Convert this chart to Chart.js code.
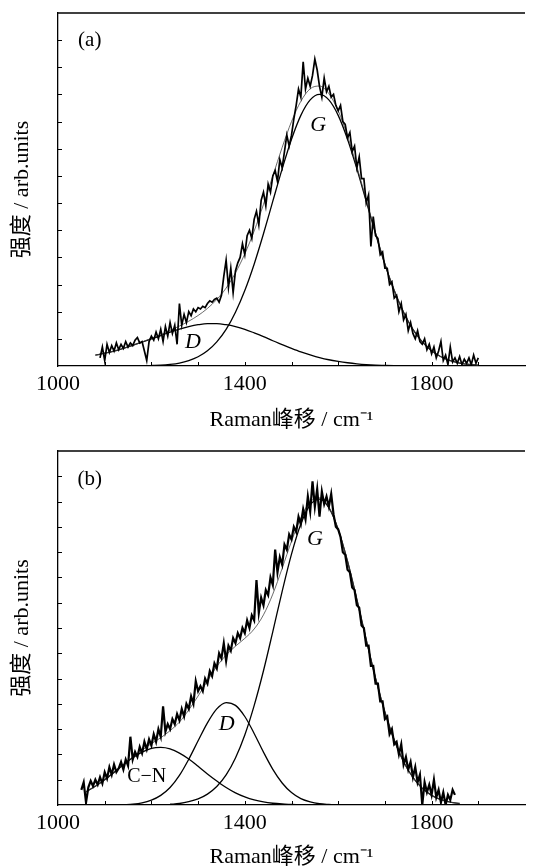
<!DOCTYPE html>
<html>
<head>
  <meta charset="utf-8">
  <title>Raman spectra (a) (b)</title>
  <script src="https://cdn.jsdelivr.net/npm/chart.js@4.4.1/dist/chart.umd.min.js"></script>
  <style>
    html, body { margin: 0; padding: 0; background: #fff; }
    canvas { display: block; }
  </style>
</head>
<body>
  <canvas id="chartA" width="538" height="434"></canvas>
  <canvas id="chartB" width="538" height="434"></canvas>
  <script>
    // x axis: Raman shift / cm-1
    var xTickLabels = [1000, 1400, 1800];
    var xMinorTicks = [1100, 1200, 1300, 1400, 1500, 1600, 1700, 1800, 1900];
    var yTicksA = [1, 2, 3, 4, 5, 6, 7, 8, 9, 10, 11, 12];
    var yTicksB = [1, 2, 3, 4, 5, 6, 7, 8, 9, 10, 11, 12, 13];

    // (a) measured spectrum, sampled every 5 cm-1 from 1090
    var specStartA = 1090, specStepA = 5;
    var specA = [
      0.3, 0.7, 0.2, 0.8, 0.5, 0.75, 0.55, 0.85, 0.6, 0.8,
      0.65, 0.9, 0.7, 0.85, 0.75, 0.95, 1.05, 0.85, 0.9, 0.55,
      0.2, 0.9, 1.1, 0.95, 1.25, 1.0, 1.35, 0.9, 1.45, 1.1,
      1.6, 1.2, 1.5, 0.8, 2.3, 1.5, 1.9, 1.6, 2.0, 1.85,
      2.1, 2.0, 2.15, 2.1, 2.2, 2.15, 2.3, 2.4, 2.35, 2.45,
      2.5, 2.35, 2.6, 3.3, 3.9, 2.9, 3.6, 2.7, 3.5, 3.8,
      4.0, 4.5, 4.1, 4.8, 5.0, 4.7, 5.4, 5.7, 5.2, 6.1,
      6.4, 5.9, 6.7, 6.4, 7.0, 7.2, 6.8, 7.6, 7.3, 7.9,
      8.5, 8.1, 8.5, 9.1, 9.6, 10.2, 9.9, 11.2, 10.2, 10.6,
      10.3, 10.7, 11.3, 10.9, 10.3, 9.9, 10.6, 10.1, 10.3, 9.9,
      10.0, 9.6, 9.4, 9.6, 9.0, 8.9, 8.4, 8.6, 7.9, 8.1,
      7.3, 7.7, 6.9, 6.9, 6.0, 6.3, 4.4, 5.5, 4.8, 4.7,
      4.1, 4.2, 3.6, 3.6, 3.0, 3.1, 2.5, 2.6, 2.0, 2.3,
      1.7, 1.9, 1.3, 1.6, 1.2, 1.0, 1.3, 0.9, 0.8, 1.0,
      0.6, 0.8, 0.45, 0.7, 0.3, 0.55, 0.9, 0.2, 0.4, 0.05,
      0.7, 0.15, 0.3, 0.1, 0.35, 0.05, 0.25, 0.1, 0.3, 0.05,
      0.4, 0.1, 0.3
    ];

    // (a) fitted components
    var fitXA = [1080, 1100, 1120, 1140, 1160, 1180, 1200, 1220, 1240, 1260,
                 1280, 1300, 1320, 1340, 1360, 1380, 1400, 1420, 1440, 1460,
                 1480, 1500, 1520, 1540, 1560, 1580, 1600, 1620, 1640, 1660,
                 1680, 1700, 1720, 1740, 1760, 1780, 1800, 1820, 1840, 1860,
                 1880, 1900];
    var fitDA = [0.4, 0.47, 0.55, 0.65, 0.76, 0.88, 1.0, 1.12, 1.25, 1.36,
                 1.45, 1.52, 1.56, 1.56, 1.52, 1.45, 1.35, 1.22, 1.08, 0.93,
                 0.79, 0.65, 0.52, 0.41, 0.31, 0.23, 0.17, 0.12, 0.08, 0.05,
                 0.03, 0.02, 0.01, 0, null, null, null, null, null, null,
                 null, null];
    var fitGA = [null, null, null, null, null, null, 0.02, 0.03, 0.06, 0.11,
                 0.2, 0.34, 0.56, 0.89, 1.35, 1.98, 2.78, 3.75, 4.87, 6.07,
                 7.26, 8.35, 9.23, 9.8, 10.0, 9.8, 9.23, 8.35, 7.26, 6.07,
                 4.87, 3.75, 2.78, 1.98, 1.35, 0.89, 0.56, 0.34, 0.2, 0.11,
                 0.06, 0.03];
    var fitSumA = [0.4, 0.47, 0.55, 0.65, 0.76, 0.88, 1.02, 1.15, 1.31, 1.47,
                   1.65, 1.86, 2.12, 2.45, 2.87, 3.43, 4.13, 4.97, 5.95, 7.0,
                   8.05, 9.0, 9.75, 10.21, 10.31, 10.03, 9.4, 8.47, 7.34, 6.12,
                   4.9, 3.77, 2.79, 1.98, 1.35, 0.89, 0.56, 0.34, 0.2, 0.11,
                   0.06, 0.03];

    // (b) measured spectrum, sampled every 5 cm-1 from 1050
    var specStartB = 1050, specStepB = 5;
    var specB = [
      0.6, 0.9, 0.1, 0.7, 0.95, 0.75, 1.0, 0.8, 1.1, 0.85,
      1.3, 1.05, 1.5, 1.2, 1.6, 1.3, 1.45, 1.7, 1.4, 1.8,
      1.55, 2.7, 1.8, 2.1, 1.9, 2.3, 2.05, 2.5, 2.2, 2.6,
      2.35, 2.8, 2.5, 3.0, 2.7, 3.9, 2.9, 3.2, 3.0, 3.4,
      3.2, 3.6, 3.35, 3.8, 3.5, 4.0, 3.8, 4.3, 4.0, 4.9,
      4.5, 4.7, 4.5, 5.0, 4.8, 5.3, 5.1, 5.6, 5.4, 6.0,
      5.8, 6.4, 5.7, 6.3, 6.1, 6.6, 6.4, 6.8, 6.6, 7.0,
      6.8, 7.3, 7.0, 7.5, 7.3, 8.9, 7.6, 8.2, 7.9, 8.5,
      8.3, 9.0, 8.7, 10.1, 9.2, 9.8, 9.5, 10.3, 10.1, 10.7,
      10.5, 11.0, 10.8, 11.4, 11.1, 11.7, 11.3, 12.2, 11.6, 12.8,
      11.8, 12.5, 11.4, 12.4, 11.9, 12.2, 11.8, 12.3, 11.5, 11.0,
      10.9, 10.6, 10.0, 9.9, 9.3, 9.2, 8.6, 8.5, 7.9, 7.8,
      7.1, 7.0, 6.3, 6.3, 5.5, 5.5, 4.8, 4.8, 4.1, 4.1,
      3.4, 3.5, 2.8, 3.0, 2.4, 2.5, 2.0, 2.4, 1.6, 1.9,
      1.4, 1.7, 1.1, 1.5, 0.9, 1.2, 0.0, 0.9, 0.5, 0.8,
      0.4, 1.0, 0.3, 0.6, 0.1, 0.5, 0.0, 0.4, 0.2, 0.6,
      0.4
    ];

    // (b) fitted components
    var fitXB = [1060, 1080, 1100, 1120, 1140, 1160, 1180, 1200, 1220, 1240,
                 1260, 1280, 1300, 1320, 1340, 1360, 1380, 1400, 1420, 1440,
                 1460, 1480, 1500, 1520, 1540, 1560, 1580, 1600, 1620, 1640,
                 1660, 1680, 1700, 1720, 1740, 1760, 1780, 1800, 1820, 1840,
                 1860];
    var fitCNB = [0.52, 0.74, 1.0, 1.29, 1.59, 1.87, 2.09, 2.24, 2.28, 2.22,
                  2.05, 1.82, 1.53, 1.23, 0.95, 0.69, 0.48, 0.32, 0.2, 0.12,
                  0.07, 0.04, 0.02, 0, null, null, null, null, null, null,
                  null, null, null, null, null, null, null, null, null, null,
                  null];
    var fitDB = [null, null, null, null, 0.01, 0.03, 0.08, 0.19, 0.38, 0.69,
                 1.17, 1.81, 2.54, 3.25, 3.8, 4.05, 3.94, 3.5, 2.83, 2.09,
                 1.41, 0.87, 0.49, 0.25, 0.12, 0.05, 0.02, 0, null, null,
                 null, null, null, null, null, null, null, null, null, null,
                 null];
    var fitGB = [null, null, null, null, null, null, null, null, null, 0.03,
                 0.06, 0.13, 0.24, 0.43, 0.73, 1.19, 1.86, 2.77, 3.93, 5.31,
                 6.86, 8.45, 9.92, 11.11, 11.87, 12.1, 11.76, 10.9, 9.64, 8.13,
                 6.54, 5.02, 3.68, 2.57, 1.71, 1.09, 0.66, 0.38, 0.21, 0.11,
                 0.06];
    var fitSumB = [0.52, 0.74, 1.0, 1.29, 1.6, 1.9, 2.17, 2.43, 2.66, 2.94,
                   3.28, 3.76, 4.31, 4.91, 5.48, 5.93, 6.28, 6.59, 6.96, 7.52,
                   8.34, 9.36, 10.43, 11.36, 11.99, 12.15, 11.78, 10.9, 9.64, 8.13,
                   6.54, 5.02, 3.68, 2.57, 1.71, 1.09, 0.66, 0.38, 0.21, 0.11,
                   0.06];

    var serif = "'Liberation Serif', 'Noto Sans CJK SC', serif";

    function sampled(start, step, vals) {
      return vals.map(function(v, i) { return {x: start + i * step, y: v}; });
    }
    function paired(xs, vals) {
      return xs.map(function(x, i) { return {x: x, y: vals[i]}; });
    }

    // top border, inward tick marks and in-plot labels
    var framePlugin = {
      id: 'frame',
      afterDatasetsDraw: function(chart, args, opts) {
        var c = chart.ctx, a = chart.chartArea;
        var xs = chart.scales.x, ys = chart.scales.y;
        c.save();
        c.strokeStyle = '#000';
        c.lineWidth = 1.3;
        c.beginPath();
        c.moveTo(a.left, a.top);
        c.lineTo(a.right, a.top);
        c.stroke();
        c.lineWidth = 1;
        c.beginPath();
        opts.xTicks.forEach(function(v) {
          var px = Math.round(xs.getPixelForValue(v)) + 0.5;
          c.moveTo(px, a.bottom);
          c.lineTo(px, a.bottom - 4);
        });
        opts.yTicks.forEach(function(v) {
          var py = Math.round(ys.getPixelForValue(v)) + 0.5;
          c.moveTo(a.left, py);
          c.lineTo(a.left + 4, py);
        });
        c.stroke();
        c.fillStyle = '#000';
        c.textAlign = 'center';
        c.textBaseline = 'middle';
        opts.labels.forEach(function(l) {
          c.font = l.font;
          c.fillText(l.text, xs.getPixelForValue(l.x), ys.getPixelForValue(l.y));
        });
        c.restore();
      }
    };

    function makeChart(id, cfg) {
      var ctx = document.getElementById(id).getContext('2d');
      return new Chart(ctx, {
        type: 'line',
        data: { datasets: cfg.datasets },
        options: {
          responsive: false,
          animation: false,
          devicePixelRatio: 1,
          layout: { padding: { left: 0, top: cfg.padTop, right: 13, bottom: 0 } },
          plugins: {
            legend: { display: false },
            tooltip: { enabled: false },
            frame: { xTicks: xMinorTicks, yTicks: cfg.yTicks, labels: cfg.labels }
          },
          elements: { point: { radius: 0 } },
          scales: {
            x: {
              type: 'linear', min: 1000, max: 2000,
              afterBuildTicks: function(s) { s.ticks = xTickLabels.map(function(v) { return {value: v}; }); },
              afterFit: function(s) { s.height = cfg.xHeight; },
              grid: { display: false, drawTicks: false },
              border: { display: true, color: '#000', width: 1.3 },
              ticks: { color: '#000', font: { family: serif, size: 22 }, padding: 5, maxRotation: 0, autoSkip: false,
                       callback: function(v) { return String(v); } },
              title: { display: true, text: 'Raman峰移 / cm⁻¹', color: '#000',
                       font: { family: serif, size: 22, lineHeight: 1 }, padding: { top: 0, bottom: cfg.xTitlePad } }
            },
            y: {
              min: 0, max: cfg.yMax,
              afterFit: function(s) { s.width = 58; },
              grid: { display: false, drawTicks: false },
              border: { display: true, color: '#000', width: 1.3 },
              ticks: { display: false },
              title: { display: true, text: '强度 / arb.units', color: '#000',
                       font: { family: serif, size: 22, lineHeight: 1 }, padding: { top: 11, bottom: 0 } }
            }
          }
        },
        plugins: [framePlugin]
      });
    }

    function fitLine(data, w, color) {
      return { data: data, borderColor: color || '#000', borderWidth: w, pointRadius: 0,
               fill: false, tension: 0.4, cubicInterpolationMode: 'monotone', spanGaps: false };
    }

    makeChart('chartA', {
      padTop: 13, xHeight: 68, xTitlePad: 3, yMax: 13, yTicks: yTicksA,
      datasets: [
        { data: sampled(specStartA, specStepA, specA), borderColor: '#000', borderWidth: 1.7, pointRadius: 0, fill: false, tension: 0 },
        fitLine(paired(fitXA, fitSumA), 0.8, '#444'),
        fitLine(paired(fitXA, fitDA), 1.3),
        fitLine(paired(fitXA, fitGA), 1.3)
      ],
      labels: [
        { text: '(a)', x: 1068, y: 12.0, font: '21px ' + serif },
        { text: 'G', x: 1557, y: 8.85, font: 'italic 22px ' + serif },
        { text: 'D', x: 1289, y: 0.86, font: 'italic 22px ' + serif }
      ]
    });

    makeChart('chartB', {
      padTop: 17, xHeight: 63, xTitlePad: 0, yMax: 14, yTicks: yTicksB,
      datasets: [
        { data: sampled(specStartB, specStepB, specB), borderColor: '#000', borderWidth: 2.2, pointRadius: 0, fill: false, tension: 0 },
        fitLine(paired(fitXB, fitSumB), 0.8, '#444'),
        fitLine(paired(fitXB, fitCNB), 1.3),
        fitLine(paired(fitXB, fitDB), 1.3),
        fitLine(paired(fitXB, fitGB), 1.3)
      ],
      labels: [
        { text: '(b)', x: 1068, y: 12.87, font: '21px ' + serif },
        { text: 'G', x: 1550, y: 10.5, font: 'italic 22px ' + serif },
        { text: 'D', x: 1361, y: 3.18, font: 'italic 22px ' + serif },
        { text: 'C−N', x: 1190, y: 1.1, font: '20px ' + serif }
      ]
    });
  </script>
</body>
</html>
